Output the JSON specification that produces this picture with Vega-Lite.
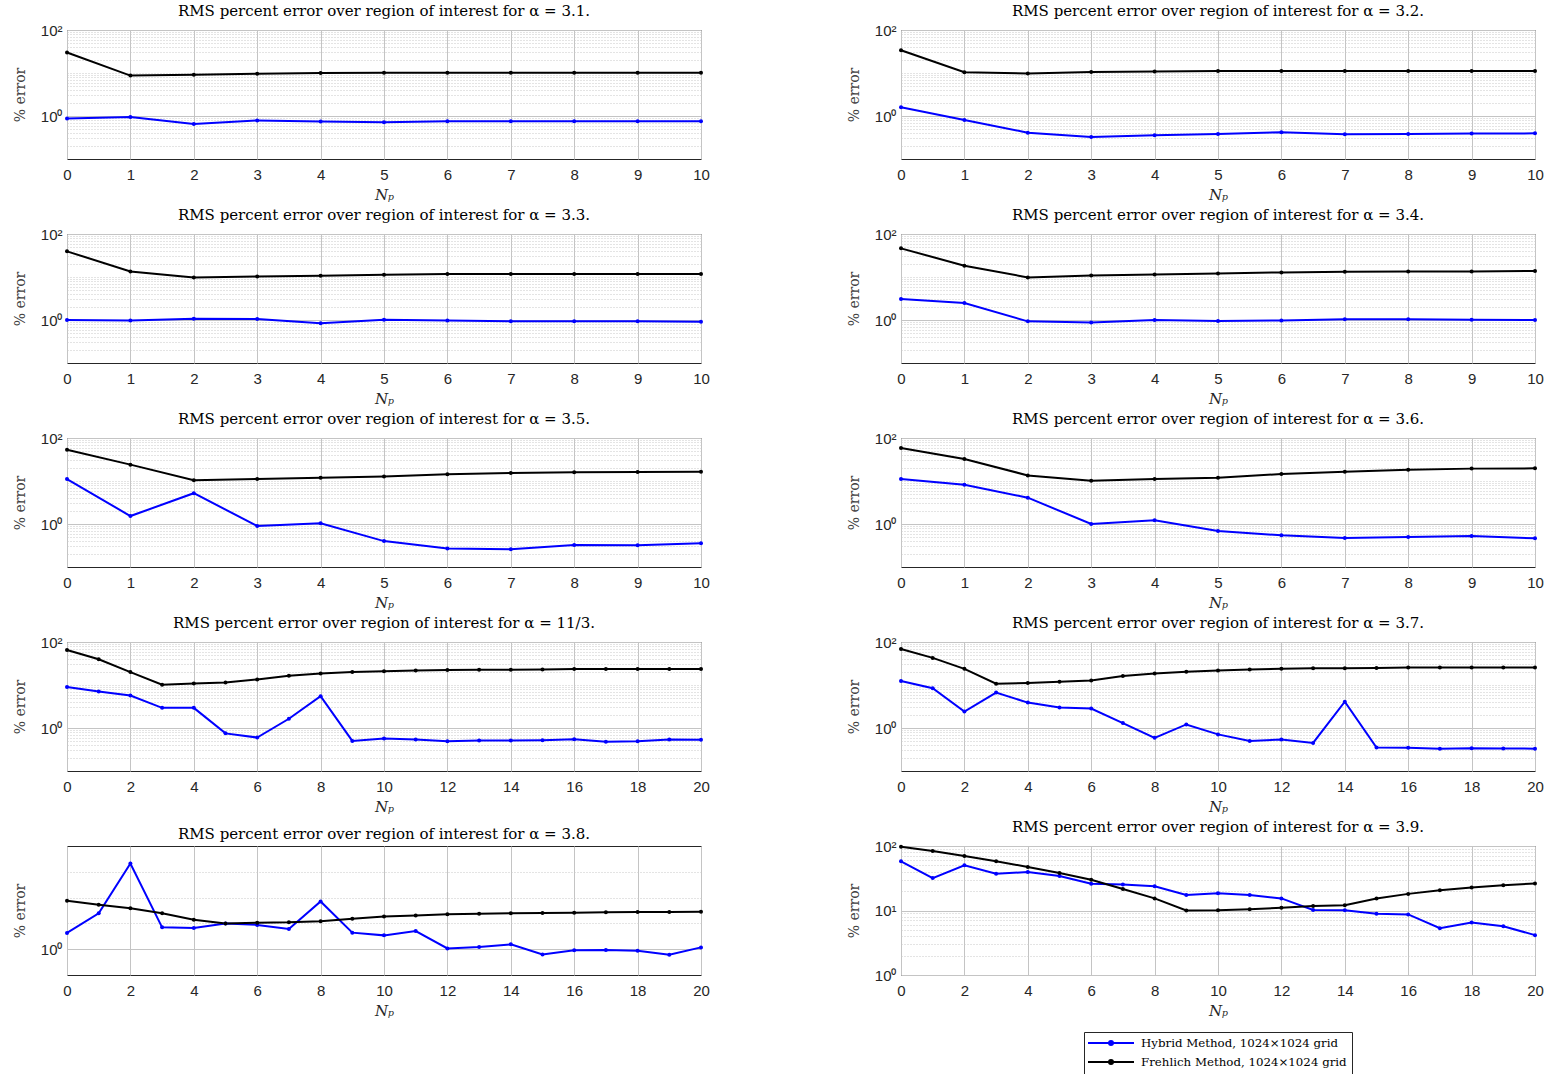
{
  "$schema": "https://vega.github.io/schema/vega-lite/v6.json",
  "padding": {"left": 12, "top": 3, "right": 5, "bottom": 1},
  "background": "white",
  "datasets": {
    "d": [
      {"p":"3.1","m":"H","n":0,"e":0.87},{"p":"3.1","m":"H","n":1,"e":0.95},{"p":"3.1","m":"H","n":2,"e":0.65},{"p":"3.1","m":"H","n":3,"e":0.79},{"p":"3.1","m":"H","n":4,"e":0.74},{"p":"3.1","m":"H","n":5,"e":0.72},{"p":"3.1","m":"H","n":6,"e":0.75},{"p":"3.1","m":"H","n":7,"e":0.75},{"p":"3.1","m":"H","n":8,"e":0.75},{"p":"3.1","m":"H","n":9,"e":0.75},{"p":"3.1","m":"H","n":10,"e":0.75},
      {"p":"3.1","m":"F","n":0,"e":30},{"p":"3.1","m":"F","n":1,"e":8.7},{"p":"3.1","m":"F","n":2,"e":9.1},{"p":"3.1","m":"F","n":3,"e":9.6},{"p":"3.1","m":"F","n":4,"e":10.0},{"p":"3.1","m":"F","n":5,"e":10.1},{"p":"3.1","m":"F","n":6,"e":10.1},{"p":"3.1","m":"F","n":7,"e":10.1},{"p":"3.1","m":"F","n":8,"e":10.1},{"p":"3.1","m":"F","n":9,"e":10.1},{"p":"3.1","m":"F","n":10,"e":10.1},
      {"p":"3.2","m":"H","n":0,"e":1.59},{"p":"3.2","m":"H","n":1,"e":0.81},{"p":"3.2","m":"H","n":2,"e":0.41},{"p":"3.2","m":"H","n":3,"e":0.325},{"p":"3.2","m":"H","n":4,"e":0.355},{"p":"3.2","m":"H","n":5,"e":0.38},{"p":"3.2","m":"H","n":6,"e":0.42},{"p":"3.2","m":"H","n":7,"e":0.375},{"p":"3.2","m":"H","n":8,"e":0.38},{"p":"3.2","m":"H","n":9,"e":0.39},{"p":"3.2","m":"H","n":10,"e":0.395},
      {"p":"3.2","m":"F","n":0,"e":33.7},{"p":"3.2","m":"F","n":1,"e":10.4},{"p":"3.2","m":"F","n":2,"e":9.8},{"p":"3.2","m":"F","n":3,"e":10.6},{"p":"3.2","m":"F","n":4,"e":10.9},{"p":"3.2","m":"F","n":5,"e":11.1},{"p":"3.2","m":"F","n":6,"e":11.1},{"p":"3.2","m":"F","n":7,"e":11.1},{"p":"3.2","m":"F","n":8,"e":11.2},{"p":"3.2","m":"F","n":9,"e":11.2},{"p":"3.2","m":"F","n":10,"e":11.2},
      {"p":"3.3","m":"H","n":0,"e":1.0},{"p":"3.3","m":"H","n":1,"e":0.98},{"p":"3.3","m":"H","n":2,"e":1.07},{"p":"3.3","m":"H","n":3,"e":1.05},{"p":"3.3","m":"H","n":4,"e":0.84},{"p":"3.3","m":"H","n":5,"e":1.02},{"p":"3.3","m":"H","n":6,"e":0.98},{"p":"3.3","m":"H","n":7,"e":0.93},{"p":"3.3","m":"H","n":8,"e":0.93},{"p":"3.3","m":"H","n":9,"e":0.93},{"p":"3.3","m":"H","n":10,"e":0.91},
      {"p":"3.3","m":"F","n":0,"e":39.5},{"p":"3.3","m":"F","n":1,"e":13.5},{"p":"3.3","m":"F","n":2,"e":9.8},{"p":"3.3","m":"F","n":3,"e":10.3},{"p":"3.3","m":"F","n":4,"e":10.7},{"p":"3.3","m":"F","n":5,"e":11.3},{"p":"3.3","m":"F","n":6,"e":11.7},{"p":"3.3","m":"F","n":7,"e":11.7},{"p":"3.3","m":"F","n":8,"e":11.7},{"p":"3.3","m":"F","n":9,"e":11.7},{"p":"3.3","m":"F","n":10,"e":11.7},
      {"p":"3.4","m":"H","n":0,"e":3.08},{"p":"3.4","m":"H","n":1,"e":2.48},{"p":"3.4","m":"H","n":2,"e":0.93},{"p":"3.4","m":"H","n":3,"e":0.87},{"p":"3.4","m":"H","n":4,"e":1.0},{"p":"3.4","m":"H","n":5,"e":0.95},{"p":"3.4","m":"H","n":6,"e":0.98},{"p":"3.4","m":"H","n":7,"e":1.04},{"p":"3.4","m":"H","n":8,"e":1.04},{"p":"3.4","m":"H","n":9,"e":1.02},{"p":"3.4","m":"H","n":10,"e":1.0},
      {"p":"3.4","m":"F","n":0,"e":46.4},{"p":"3.4","m":"F","n":1,"e":18.3},{"p":"3.4","m":"F","n":2,"e":9.8},{"p":"3.4","m":"F","n":3,"e":10.9},{"p":"3.4","m":"F","n":4,"e":11.5},{"p":"3.4","m":"F","n":5,"e":12.1},{"p":"3.4","m":"F","n":6,"e":12.8},{"p":"3.4","m":"F","n":7,"e":13.3},{"p":"3.4","m":"F","n":8,"e":13.5},{"p":"3.4","m":"F","n":9,"e":13.5},{"p":"3.4","m":"F","n":10,"e":13.8},
      {"p":"3.5","m":"H","n":0,"e":11.1},{"p":"3.5","m":"H","n":1,"e":1.53},{"p":"3.5","m":"H","n":2,"e":5.2},{"p":"3.5","m":"H","n":3,"e":0.9},{"p":"3.5","m":"H","n":4,"e":1.04},{"p":"3.5","m":"H","n":5,"e":0.40},{"p":"3.5","m":"H","n":6,"e":0.27},{"p":"3.5","m":"H","n":7,"e":0.26},{"p":"3.5","m":"H","n":8,"e":0.325},{"p":"3.5","m":"H","n":9,"e":0.32},{"p":"3.5","m":"H","n":10,"e":0.355},
      {"p":"3.5","m":"F","n":0,"e":53.5},{"p":"3.5","m":"F","n":1,"e":24},{"p":"3.5","m":"F","n":2,"e":10.4},{"p":"3.5","m":"F","n":3,"e":11.1},{"p":"3.5","m":"F","n":4,"e":11.9},{"p":"3.5","m":"F","n":5,"e":12.8},{"p":"3.5","m":"F","n":6,"e":14.3},{"p":"3.5","m":"F","n":7,"e":15.3},{"p":"3.5","m":"F","n":8,"e":15.9},{"p":"3.5","m":"F","n":9,"e":16.2},{"p":"3.5","m":"F","n":10,"e":16.5},
      {"p":"3.6","m":"H","n":0,"e":11.1},{"p":"3.6","m":"H","n":1,"e":8.2},{"p":"3.6","m":"H","n":2,"e":4.1},{"p":"3.6","m":"H","n":3,"e":1.0},{"p":"3.6","m":"H","n":4,"e":1.22},{"p":"3.6","m":"H","n":5,"e":0.69},{"p":"3.6","m":"H","n":6,"e":0.545},{"p":"3.6","m":"H","n":7,"e":0.47},{"p":"3.6","m":"H","n":8,"e":0.50},{"p":"3.6","m":"H","n":9,"e":0.525},{"p":"3.6","m":"H","n":10,"e":0.465},
      {"p":"3.6","m":"F","n":0,"e":58.5},{"p":"3.6","m":"F","n":1,"e":32.5},{"p":"3.6","m":"F","n":2,"e":13.5},{"p":"3.6","m":"F","n":3,"e":10.2},{"p":"3.6","m":"F","n":4,"e":11.1},{"p":"3.6","m":"F","n":5,"e":11.9},{"p":"3.6","m":"F","n":6,"e":14.5},{"p":"3.6","m":"F","n":7,"e":16.5},{"p":"3.6","m":"F","n":8,"e":18.3},{"p":"3.6","m":"F","n":9,"e":19.4},{"p":"3.6","m":"F","n":10,"e":19.7},
      {"p":"11/3","m":"H","n":0,"e":9.0},{"p":"11/3","m":"H","n":1,"e":7.1},{"p":"11/3","m":"H","n":2,"e":5.7},{"p":"11/3","m":"H","n":3,"e":2.94},{"p":"11/3","m":"H","n":4,"e":2.94},{"p":"11/3","m":"H","n":5,"e":0.75},{"p":"11/3","m":"H","n":6,"e":0.6},{"p":"11/3","m":"H","n":7,"e":1.64},{"p":"11/3","m":"H","n":8,"e":5.5},{"p":"11/3","m":"H","n":9,"e":0.5},{"p":"11/3","m":"H","n":10,"e":0.57},{"p":"11/3","m":"H","n":11,"e":0.54},{"p":"11/3","m":"H","n":12,"e":0.49},{"p":"11/3","m":"H","n":13,"e":0.51},{"p":"11/3","m":"H","n":14,"e":0.51},{"p":"11/3","m":"H","n":15,"e":0.52},{"p":"11/3","m":"H","n":16,"e":0.55},{"p":"11/3","m":"H","n":17,"e":0.48},{"p":"11/3","m":"H","n":18,"e":0.49},{"p":"11/3","m":"H","n":19,"e":0.54},{"p":"11/3","m":"H","n":20,"e":0.53},
      {"p":"11/3","m":"F","n":0,"e":65},{"p":"11/3","m":"F","n":1,"e":39.8},{"p":"11/3","m":"F","n":2,"e":20},{"p":"11/3","m":"F","n":3,"e":10.2},{"p":"11/3","m":"F","n":4,"e":10.9},{"p":"11/3","m":"F","n":5,"e":11.5},{"p":"11/3","m":"F","n":6,"e":13.5},{"p":"11/3","m":"F","n":7,"e":16.4},{"p":"11/3","m":"F","n":8,"e":18.6},{"p":"11/3","m":"F","n":9,"e":20},{"p":"11/3","m":"F","n":10,"e":21},{"p":"11/3","m":"F","n":11,"e":21.8},{"p":"11/3","m":"F","n":12,"e":22.2},{"p":"11/3","m":"F","n":13,"e":22.6},{"p":"11/3","m":"F","n":14,"e":22.6},{"p":"11/3","m":"F","n":15,"e":23},{"p":"11/3","m":"F","n":16,"e":23.4},{"p":"11/3","m":"F","n":17,"e":23.4},{"p":"11/3","m":"F","n":18,"e":23.4},{"p":"11/3","m":"F","n":19,"e":23.4},{"p":"11/3","m":"F","n":20,"e":23.4},
      {"p":"3.7","m":"H","n":0,"e":12.4},{"p":"3.7","m":"H","n":1,"e":8.4},{"p":"3.7","m":"H","n":2,"e":2.42},{"p":"3.7","m":"H","n":3,"e":6.65},{"p":"3.7","m":"H","n":4,"e":3.9},{"p":"3.7","m":"H","n":5,"e":3.0},{"p":"3.7","m":"H","n":6,"e":2.84},{"p":"3.7","m":"H","n":7,"e":1.3},{"p":"3.7","m":"H","n":8,"e":0.59},{"p":"3.7","m":"H","n":9,"e":1.21},{"p":"3.7","m":"H","n":10,"e":0.71},{"p":"3.7","m":"H","n":11,"e":0.5},{"p":"3.7","m":"H","n":12,"e":0.54},{"p":"3.7","m":"H","n":13,"e":0.45},{"p":"3.7","m":"H","n":14,"e":4.1},{"p":"3.7","m":"H","n":15,"e":0.35},{"p":"3.7","m":"H","n":16,"e":0.345},{"p":"3.7","m":"H","n":17,"e":0.33},{"p":"3.7","m":"H","n":18,"e":0.34},{"p":"3.7","m":"H","n":19,"e":0.335},{"p":"3.7","m":"H","n":20,"e":0.33},
      {"p":"3.7","m":"F","n":0,"e":69},{"p":"3.7","m":"F","n":1,"e":42.7},{"p":"3.7","m":"F","n":2,"e":23.8},{"p":"3.7","m":"F","n":3,"e":10.7},{"p":"3.7","m":"F","n":4,"e":11.1},{"p":"3.7","m":"F","n":5,"e":11.9},{"p":"3.7","m":"F","n":6,"e":12.8},{"p":"3.7","m":"F","n":7,"e":16.1},{"p":"3.7","m":"F","n":8,"e":18.6},{"p":"3.7","m":"F","n":9,"e":20.4},{"p":"3.7","m":"F","n":10,"e":21.8},{"p":"3.7","m":"F","n":11,"e":23},{"p":"3.7","m":"F","n":12,"e":23.8},{"p":"3.7","m":"F","n":13,"e":24.6},{"p":"3.7","m":"F","n":14,"e":24.6},{"p":"3.7","m":"F","n":15,"e":25},{"p":"3.7","m":"F","n":16,"e":25.5},{"p":"3.7","m":"F","n":17,"e":25.5},{"p":"3.7","m":"F","n":18,"e":25.5},{"p":"3.7","m":"F","n":19,"e":25.5},{"p":"3.7","m":"F","n":20,"e":25.5},
      {"p":"3.8","m":"H","n":0,"e":1.55},{"p":"3.8","m":"H","n":1,"e":2.62},{"p":"3.8","m":"H","n":2,"e":10.0},{"p":"3.8","m":"H","n":3,"e":1.8},{"p":"3.8","m":"H","n":4,"e":1.77},{"p":"3.8","m":"H","n":5,"e":1.99},{"p":"3.8","m":"H","n":6,"e":1.92},{"p":"3.8","m":"H","n":7,"e":1.72},{"p":"3.8","m":"H","n":8,"e":3.61},{"p":"3.8","m":"H","n":9,"e":1.56},{"p":"3.8","m":"H","n":10,"e":1.45},{"p":"3.8","m":"H","n":11,"e":1.63},{"p":"3.8","m":"H","n":12,"e":1.02},{"p":"3.8","m":"H","n":13,"e":1.06},{"p":"3.8","m":"H","n":14,"e":1.14},{"p":"3.8","m":"H","n":15,"e":0.87},{"p":"3.8","m":"H","n":16,"e":0.97},{"p":"3.8","m":"H","n":17,"e":0.98},{"p":"3.8","m":"H","n":18,"e":0.96},{"p":"3.8","m":"H","n":19,"e":0.86},{"p":"3.8","m":"H","n":20,"e":1.05},
      {"p":"3.8","m":"F","n":0,"e":3.68},{"p":"3.8","m":"F","n":1,"e":3.3},{"p":"3.8","m":"F","n":2,"e":3.0},{"p":"3.8","m":"F","n":3,"e":2.62},{"p":"3.8","m":"F","n":4,"e":2.21},{"p":"3.8","m":"F","n":5,"e":2.0},{"p":"3.8","m":"F","n":6,"e":2.04},{"p":"3.8","m":"F","n":7,"e":2.06},{"p":"3.8","m":"F","n":8,"e":2.12},{"p":"3.8","m":"F","n":9,"e":2.27},{"p":"3.8","m":"F","n":10,"e":2.4},{"p":"3.8","m":"F","n":11,"e":2.48},{"p":"3.8","m":"F","n":12,"e":2.55},{"p":"3.8","m":"F","n":13,"e":2.6},{"p":"3.8","m":"F","n":14,"e":2.62},{"p":"3.8","m":"F","n":15,"e":2.65},{"p":"3.8","m":"F","n":16,"e":2.67},{"p":"3.8","m":"F","n":17,"e":2.69},{"p":"3.8","m":"F","n":18,"e":2.72},{"p":"3.8","m":"F","n":19,"e":2.72},{"p":"3.8","m":"F","n":20,"e":2.74},
      {"p":"3.9","m":"H","n":0,"e":58},{"p":"3.9","m":"H","n":1,"e":31.8},{"p":"3.9","m":"H","n":2,"e":50.3},{"p":"3.9","m":"H","n":3,"e":37.2},{"p":"3.9","m":"H","n":4,"e":39.5},{"p":"3.9","m":"H","n":5,"e":34.2},{"p":"3.9","m":"H","n":6,"e":25.9},{"p":"3.9","m":"H","n":7,"e":25.3},{"p":"3.9","m":"H","n":8,"e":23.8},{"p":"3.9","m":"H","n":9,"e":17.4},{"p":"3.9","m":"H","n":10,"e":18.5},{"p":"3.9","m":"H","n":11,"e":17.4},{"p":"3.9","m":"H","n":12,"e":15.4},{"p":"3.9","m":"H","n":13,"e":10.2},{"p":"3.9","m":"H","n":14,"e":10.1},{"p":"3.9","m":"H","n":15,"e":8.9},{"p":"3.9","m":"H","n":16,"e":8.7},{"p":"3.9","m":"H","n":17,"e":5.3},{"p":"3.9","m":"H","n":18,"e":6.5},{"p":"3.9","m":"H","n":19,"e":5.7},{"p":"3.9","m":"H","n":20,"e":4.15},
      {"p":"3.9","m":"F","n":0,"e":97.6},{"p":"3.9","m":"F","n":1,"e":83.5},{"p":"3.9","m":"F","n":2,"e":69.7},{"p":"3.9","m":"F","n":3,"e":58},{"p":"3.9","m":"F","n":4,"e":47.4},{"p":"3.9","m":"F","n":5,"e":38.1},{"p":"3.9","m":"F","n":6,"e":29.9},{"p":"3.9","m":"F","n":7,"e":21.6},{"p":"3.9","m":"F","n":8,"e":15.4},{"p":"3.9","m":"F","n":9,"e":10.0},{"p":"3.9","m":"F","n":10,"e":10.1},{"p":"3.9","m":"F","n":11,"e":10.5},{"p":"3.9","m":"F","n":12,"e":11.0},{"p":"3.9","m":"F","n":13,"e":11.7},{"p":"3.9","m":"F","n":14,"e":12.1},{"p":"3.9","m":"F","n":15,"e":15.3},{"p":"3.9","m":"F","n":16,"e":18.1},{"p":"3.9","m":"F","n":17,"e":20.6},{"p":"3.9","m":"F","n":18,"e":22.7},{"p":"3.9","m":"F","n":19,"e":24.7},{"p":"3.9","m":"F","n":20,"e":26.2}
    ]
  },
  "data": {"name": "d"},
  "columns": 2,
  "spacing": {"row": 75, "column": 200},
  "bounds": "flush",
  "resolve": {"scale": {"x": "independent", "y": "independent"}},
  "config": {
    "font": "DejaVu Serif",
    "view": {"stroke": "#262626", "strokeWidth": 1},
    "axis": {
      "labelFont": "Liberation Sans", "labelFontSize": 15, "labelColor": "#262626",
      "titleFont": "DejaVu Serif", "titleFontSize": 14, "titleFontWeight": "normal", "titleColor": "#404040",
      "gridColor": "#c4c4c4", "gridOpacity": 1, "gridWidth": 1, "domain": false, "ticks": false,
      "labelFlush": false, "labelOverlap": false
    },
    "axisX": {"labelPadding": 8, "titlePadding": 5, "titleFontStyle": "italic", "titleFontSize": 15, "titleColor": "#262626"},
    "axisY": {"labelPadding": 5, "titlePadding": 13},
    "title": {"font": "DejaVu Serif", "fontSize": 15, "fontWeight": "normal", "color": "#000000", "offset": 0, "anchor": "middle"},
    "legend": {
      "orient": "none", "legendX": 1017, "legendY": 1002, "direction": "vertical",
      "labelFont": "DejaVu Serif", "labelFontSize": 11.8, "labelColor": "#000000", "labelLimit": 400,
      "strokeColor": "#262626", "fillColor": "#ffffff", "padding": 5,
      "symbolType": "M-4.6,0H4.6M-0.4,0A0.4,0.4,0,1,1,0.4,0A0.4,0.4,0,1,1,-0.4,0",
      "symbolSize": 100, "symbolStrokeWidth": 2, "symbolOffset": 16, "labelOffset": 24, "rowPadding": 6
    }
  },
  "concat": [
    {
      "title": "RMS percent error over region of interest for α = 3.1.",
      "width": 634, "height": 129,
      "transform": [{"filter": "datum.p == '3.1'"}],
      "layer": [
        {"mark": {"type": "point", "opacity": 0},
         "encoding": {"y": {"field": "e", "type": "quantitative", "scale": {"type": "log", "domain": [0.1, 100], "nice": false},
           "axis": {"orient": "right", "values": [0.2,0.3,0.4,0.5,0.6,0.7,0.8,0.9,2,3,4,5,6,7,8,9,10,20,30,40,50,60,70,80,90], "grid": true, "gridDash": [1,2], "gridColor": "#c8c8c8", "labels": false, "ticks": false, "domain": false, "title": null}}}},
        {"mark": {"type": "line", "strokeWidth": 2, "point": {"filled": true, "size": 16}},
         "encoding": {
           "x": {"field": "n", "type": "quantitative", "scale": {"domain": [0, 10], "nice": false, "zero": false}, "axis": {"values": [0,1,2,3,4,5,6,7,8,9,10], "title": "Nₚ", "grid": true}},
           "y": {"field": "e", "type": "quantitative", "scale": {"type": "log", "domain": [0.1, 100], "nice": false}, "axis": {"orient": "left", "values": [1, 100], "grid": true, "title": "% error", "labelExpr": "datum.value == 1 ? '10⁰' : datum.value == 10 ? '10¹' : '10²'"}},
           "color": {"field": "m", "type": "nominal", "scale": {"domain": ["H", "F"], "range": ["#0000ff", "#000000"]}, "legend": {"title": null, "labelExpr": "datum.value == 'H' ? 'Hybrid Method, 1024×1024 grid' : 'Frehlich Method, 1024×1024 grid'"}}
         }}
      ],
      "resolve": {"axis": {"y": "independent"}}
    },
    {
      "title": "RMS percent error over region of interest for α = 3.2.",
      "width": 634, "height": 129,
      "transform": [{"filter": "datum.p == '3.2'"}],
      "layer": [
        {"mark": {"type": "point", "opacity": 0},
         "encoding": {"y": {"field": "e", "type": "quantitative", "scale": {"type": "log", "domain": [0.1, 100], "nice": false},
           "axis": {"orient": "right", "values": [0.2,0.3,0.4,0.5,0.6,0.7,0.8,0.9,2,3,4,5,6,7,8,9,10,20,30,40,50,60,70,80,90], "grid": true, "gridDash": [1,2], "gridColor": "#c8c8c8", "labels": false, "ticks": false, "domain": false, "title": null}}}},
        {"mark": {"type": "line", "strokeWidth": 2, "point": {"filled": true, "size": 16}},
         "encoding": {
           "x": {"field": "n", "type": "quantitative", "scale": {"domain": [0, 10], "nice": false, "zero": false}, "axis": {"values": [0,1,2,3,4,5,6,7,8,9,10], "title": "Nₚ", "grid": true}},
           "y": {"field": "e", "type": "quantitative", "scale": {"type": "log", "domain": [0.1, 100], "nice": false}, "axis": {"orient": "left", "values": [1, 100], "grid": true, "title": "% error", "labelExpr": "datum.value == 1 ? '10⁰' : datum.value == 10 ? '10¹' : '10²'"}},
           "color": {"field": "m", "type": "nominal", "scale": {"domain": ["H", "F"], "range": ["#0000ff", "#000000"]}, "legend": {"title": null, "labelExpr": "datum.value == 'H' ? 'Hybrid Method, 1024×1024 grid' : 'Frehlich Method, 1024×1024 grid'"}}
         }}
      ],
      "resolve": {"axis": {"y": "independent"}}
    },
    {
      "title": "RMS percent error over region of interest for α = 3.3.",
      "width": 634, "height": 129,
      "transform": [{"filter": "datum.p == '3.3'"}],
      "layer": [
        {"mark": {"type": "point", "opacity": 0},
         "encoding": {"y": {"field": "e", "type": "quantitative", "scale": {"type": "log", "domain": [0.1, 100], "nice": false},
           "axis": {"orient": "right", "values": [0.2,0.3,0.4,0.5,0.6,0.7,0.8,0.9,2,3,4,5,6,7,8,9,10,20,30,40,50,60,70,80,90], "grid": true, "gridDash": [1,2], "gridColor": "#c8c8c8", "labels": false, "ticks": false, "domain": false, "title": null}}}},
        {"mark": {"type": "line", "strokeWidth": 2, "point": {"filled": true, "size": 16}},
         "encoding": {
           "x": {"field": "n", "type": "quantitative", "scale": {"domain": [0, 10], "nice": false, "zero": false}, "axis": {"values": [0,1,2,3,4,5,6,7,8,9,10], "title": "Nₚ", "grid": true}},
           "y": {"field": "e", "type": "quantitative", "scale": {"type": "log", "domain": [0.1, 100], "nice": false}, "axis": {"orient": "left", "values": [1, 100], "grid": true, "title": "% error", "labelExpr": "datum.value == 1 ? '10⁰' : datum.value == 10 ? '10¹' : '10²'"}},
           "color": {"field": "m", "type": "nominal", "scale": {"domain": ["H", "F"], "range": ["#0000ff", "#000000"]}, "legend": {"title": null, "labelExpr": "datum.value == 'H' ? 'Hybrid Method, 1024×1024 grid' : 'Frehlich Method, 1024×1024 grid'"}}
         }}
      ],
      "resolve": {"axis": {"y": "independent"}}
    },
    {
      "title": "RMS percent error over region of interest for α = 3.4.",
      "width": 634, "height": 129,
      "transform": [{"filter": "datum.p == '3.4'"}],
      "layer": [
        {"mark": {"type": "point", "opacity": 0},
         "encoding": {"y": {"field": "e", "type": "quantitative", "scale": {"type": "log", "domain": [0.1, 100], "nice": false},
           "axis": {"orient": "right", "values": [0.2,0.3,0.4,0.5,0.6,0.7,0.8,0.9,2,3,4,5,6,7,8,9,10,20,30,40,50,60,70,80,90], "grid": true, "gridDash": [1,2], "gridColor": "#c8c8c8", "labels": false, "ticks": false, "domain": false, "title": null}}}},
        {"mark": {"type": "line", "strokeWidth": 2, "point": {"filled": true, "size": 16}},
         "encoding": {
           "x": {"field": "n", "type": "quantitative", "scale": {"domain": [0, 10], "nice": false, "zero": false}, "axis": {"values": [0,1,2,3,4,5,6,7,8,9,10], "title": "Nₚ", "grid": true}},
           "y": {"field": "e", "type": "quantitative", "scale": {"type": "log", "domain": [0.1, 100], "nice": false}, "axis": {"orient": "left", "values": [1, 100], "grid": true, "title": "% error", "labelExpr": "datum.value == 1 ? '10⁰' : datum.value == 10 ? '10¹' : '10²'"}},
           "color": {"field": "m", "type": "nominal", "scale": {"domain": ["H", "F"], "range": ["#0000ff", "#000000"]}, "legend": {"title": null, "labelExpr": "datum.value == 'H' ? 'Hybrid Method, 1024×1024 grid' : 'Frehlich Method, 1024×1024 grid'"}}
         }}
      ],
      "resolve": {"axis": {"y": "independent"}}
    },
    {
      "title": "RMS percent error over region of interest for α = 3.5.",
      "width": 634, "height": 129,
      "transform": [{"filter": "datum.p == '3.5'"}],
      "layer": [
        {"mark": {"type": "point", "opacity": 0},
         "encoding": {"y": {"field": "e", "type": "quantitative", "scale": {"type": "log", "domain": [0.1, 100], "nice": false},
           "axis": {"orient": "right", "values": [0.2,0.3,0.4,0.5,0.6,0.7,0.8,0.9,2,3,4,5,6,7,8,9,10,20,30,40,50,60,70,80,90], "grid": true, "gridDash": [1,2], "gridColor": "#c8c8c8", "labels": false, "ticks": false, "domain": false, "title": null}}}},
        {"mark": {"type": "line", "strokeWidth": 2, "point": {"filled": true, "size": 16}},
         "encoding": {
           "x": {"field": "n", "type": "quantitative", "scale": {"domain": [0, 10], "nice": false, "zero": false}, "axis": {"values": [0,1,2,3,4,5,6,7,8,9,10], "title": "Nₚ", "grid": true}},
           "y": {"field": "e", "type": "quantitative", "scale": {"type": "log", "domain": [0.1, 100], "nice": false}, "axis": {"orient": "left", "values": [1, 100], "grid": true, "title": "% error", "labelExpr": "datum.value == 1 ? '10⁰' : datum.value == 10 ? '10¹' : '10²'"}},
           "color": {"field": "m", "type": "nominal", "scale": {"domain": ["H", "F"], "range": ["#0000ff", "#000000"]}, "legend": {"title": null, "labelExpr": "datum.value == 'H' ? 'Hybrid Method, 1024×1024 grid' : 'Frehlich Method, 1024×1024 grid'"}}
         }}
      ],
      "resolve": {"axis": {"y": "independent"}}
    },
    {
      "title": "RMS percent error over region of interest for α = 3.6.",
      "width": 634, "height": 129,
      "transform": [{"filter": "datum.p == '3.6'"}],
      "layer": [
        {"mark": {"type": "point", "opacity": 0},
         "encoding": {"y": {"field": "e", "type": "quantitative", "scale": {"type": "log", "domain": [0.1, 100], "nice": false},
           "axis": {"orient": "right", "values": [0.2,0.3,0.4,0.5,0.6,0.7,0.8,0.9,2,3,4,5,6,7,8,9,10,20,30,40,50,60,70,80,90], "grid": true, "gridDash": [1,2], "gridColor": "#c8c8c8", "labels": false, "ticks": false, "domain": false, "title": null}}}},
        {"mark": {"type": "line", "strokeWidth": 2, "point": {"filled": true, "size": 16}},
         "encoding": {
           "x": {"field": "n", "type": "quantitative", "scale": {"domain": [0, 10], "nice": false, "zero": false}, "axis": {"values": [0,1,2,3,4,5,6,7,8,9,10], "title": "Nₚ", "grid": true}},
           "y": {"field": "e", "type": "quantitative", "scale": {"type": "log", "domain": [0.1, 100], "nice": false}, "axis": {"orient": "left", "values": [1, 100], "grid": true, "title": "% error", "labelExpr": "datum.value == 1 ? '10⁰' : datum.value == 10 ? '10¹' : '10²'"}},
           "color": {"field": "m", "type": "nominal", "scale": {"domain": ["H", "F"], "range": ["#0000ff", "#000000"]}, "legend": {"title": null, "labelExpr": "datum.value == 'H' ? 'Hybrid Method, 1024×1024 grid' : 'Frehlich Method, 1024×1024 grid'"}}
         }}
      ],
      "resolve": {"axis": {"y": "independent"}}
    },
    {
      "title": "RMS percent error over region of interest for α = 11/3.",
      "width": 634, "height": 129,
      "transform": [{"filter": "datum.p == '11/3'"}],
      "layer": [
        {"mark": {"type": "point", "opacity": 0},
         "encoding": {"y": {"field": "e", "type": "quantitative", "scale": {"type": "log", "domain": [0.1, 100], "nice": false},
           "axis": {"orient": "right", "values": [0.2,0.3,0.4,0.5,0.6,0.7,0.8,0.9,2,3,4,5,6,7,8,9,10,20,30,40,50,60,70,80,90], "grid": true, "gridDash": [1,2], "gridColor": "#c8c8c8", "labels": false, "ticks": false, "domain": false, "title": null}}}},
        {"mark": {"type": "line", "strokeWidth": 2, "point": {"filled": true, "size": 16}},
         "encoding": {
           "x": {"field": "n", "type": "quantitative", "scale": {"domain": [0, 20], "nice": false, "zero": false}, "axis": {"values": [0,2,4,6,8,10,12,14,16,18,20], "title": "Nₚ", "grid": true}},
           "y": {"field": "e", "type": "quantitative", "scale": {"type": "log", "domain": [0.1, 100], "nice": false}, "axis": {"orient": "left", "values": [1, 100], "grid": true, "title": "% error", "labelExpr": "datum.value == 1 ? '10⁰' : datum.value == 10 ? '10¹' : '10²'"}},
           "color": {"field": "m", "type": "nominal", "scale": {"domain": ["H", "F"], "range": ["#0000ff", "#000000"]}, "legend": {"title": null, "labelExpr": "datum.value == 'H' ? 'Hybrid Method, 1024×1024 grid' : 'Frehlich Method, 1024×1024 grid'"}}
         }}
      ],
      "resolve": {"axis": {"y": "independent"}}
    },
    {
      "title": "RMS percent error over region of interest for α = 3.7.",
      "width": 634, "height": 129,
      "transform": [{"filter": "datum.p == '3.7'"}],
      "layer": [
        {"mark": {"type": "point", "opacity": 0},
         "encoding": {"y": {"field": "e", "type": "quantitative", "scale": {"type": "log", "domain": [0.1, 100], "nice": false},
           "axis": {"orient": "right", "values": [0.2,0.3,0.4,0.5,0.6,0.7,0.8,0.9,2,3,4,5,6,7,8,9,10,20,30,40,50,60,70,80,90], "grid": true, "gridDash": [1,2], "gridColor": "#c8c8c8", "labels": false, "ticks": false, "domain": false, "title": null}}}},
        {"mark": {"type": "line", "strokeWidth": 2, "point": {"filled": true, "size": 16}},
         "encoding": {
           "x": {"field": "n", "type": "quantitative", "scale": {"domain": [0, 20], "nice": false, "zero": false}, "axis": {"values": [0,2,4,6,8,10,12,14,16,18,20], "title": "Nₚ", "grid": true}},
           "y": {"field": "e", "type": "quantitative", "scale": {"type": "log", "domain": [0.1, 100], "nice": false}, "axis": {"orient": "left", "values": [1, 100], "grid": true, "title": "% error", "labelExpr": "datum.value == 1 ? '10⁰' : datum.value == 10 ? '10¹' : '10²'"}},
           "color": {"field": "m", "type": "nominal", "scale": {"domain": ["H", "F"], "range": ["#0000ff", "#000000"]}, "legend": {"title": null, "labelExpr": "datum.value == 'H' ? 'Hybrid Method, 1024×1024 grid' : 'Frehlich Method, 1024×1024 grid'"}}
         }}
      ],
      "resolve": {"axis": {"y": "independent"}}
    },
    {
      "title": "RMS percent error over region of interest for α = 3.8.",
      "width": 634, "height": 129,
      "transform": [{"filter": "datum.p == '3.8'"}],
      "layer": [
        {"mark": {"type": "point", "opacity": 0},
         "encoding": {"y": {"field": "e", "type": "quantitative", "scale": {"type": "log", "domain": [0.5, 16], "nice": false},
           "axis": {"orient": "right", "values": [2, 4, 8], "grid": true, "gridDash": [1,2], "gridColor": "#c8c8c8", "labels": false, "ticks": false, "domain": false, "title": null}}}},
        {"mark": {"type": "line", "strokeWidth": 2, "point": {"filled": true, "size": 16}},
         "encoding": {
           "x": {"field": "n", "type": "quantitative", "scale": {"domain": [0, 20], "nice": false, "zero": false}, "axis": {"values": [0,2,4,6,8,10,12,14,16,18,20], "title": "Nₚ", "grid": true}},
           "y": {"field": "e", "type": "quantitative", "scale": {"type": "log", "domain": [0.5, 16], "nice": false}, "axis": {"orient": "left", "values": [1], "grid": true, "title": "% error", "labelExpr": "datum.value == 1 ? '10⁰' : datum.value == 10 ? '10¹' : '10²'"}},
           "color": {"field": "m", "type": "nominal", "scale": {"domain": ["H", "F"], "range": ["#0000ff", "#000000"]}, "legend": {"title": null, "labelExpr": "datum.value == 'H' ? 'Hybrid Method, 1024×1024 grid' : 'Frehlich Method, 1024×1024 grid'"}}
         }}
      ],
      "resolve": {"axis": {"y": "independent"}}
    },
    {
      "title": "RMS percent error over region of interest for α = 3.9.",
      "width": 634, "height": 129,
      "transform": [{"filter": "datum.p == '3.9'"}],
      "layer": [
        {"mark": {"type": "point", "opacity": 0},
         "encoding": {"y": {"field": "e", "type": "quantitative", "scale": {"type": "log", "domain": [1, 100], "nice": false},
           "axis": {"orient": "right", "values": [2,3,4,5,6,7,8,9,20,30,40,50,60,70,80,90], "grid": true, "gridDash": [1,2], "gridColor": "#c8c8c8", "labels": false, "ticks": false, "domain": false, "title": null}}}},
        {"mark": {"type": "line", "strokeWidth": 2, "point": {"filled": true, "size": 16}},
         "encoding": {
           "x": {"field": "n", "type": "quantitative", "scale": {"domain": [0, 20], "nice": false, "zero": false}, "axis": {"values": [0,2,4,6,8,10,12,14,16,18,20], "title": "Nₚ", "grid": true}},
           "y": {"field": "e", "type": "quantitative", "scale": {"type": "log", "domain": [1, 100], "nice": false}, "axis": {"orient": "left", "values": [1, 10, 100], "grid": true, "title": "% error", "labelExpr": "datum.value == 1 ? '10⁰' : datum.value == 10 ? '10¹' : '10²'"}},
           "color": {"field": "m", "type": "nominal", "scale": {"domain": ["H", "F"], "range": ["#0000ff", "#000000"]}, "legend": {"title": null, "labelExpr": "datum.value == 'H' ? 'Hybrid Method, 1024×1024 grid' : 'Frehlich Method, 1024×1024 grid'"}}
         }}
      ],
      "resolve": {"axis": {"y": "independent"}}
    }
  ]
}
